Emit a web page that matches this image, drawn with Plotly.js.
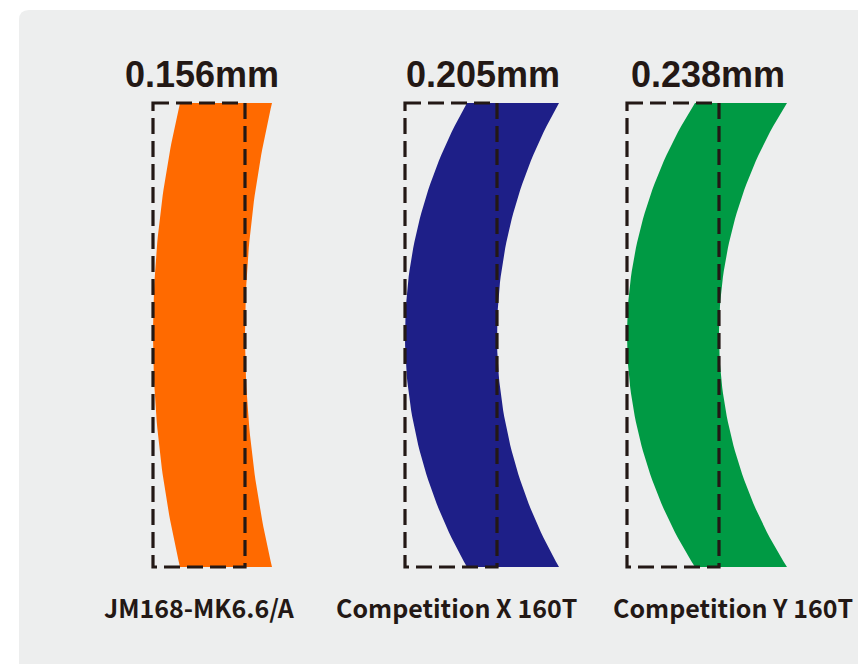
<!DOCTYPE html>
<html>
<head>
<meta charset="utf-8">
<script src="https://cdn.plot.ly/plotly-3.0.1.min.js"></script>
<style>html,body{margin:0;padding:0;background:#fff;}#chart{width:858px;height:664px;}</style>
</head>
<body>
<div id="chart"></div>
<script>
// ---- data ----
const products = ["JM168-MK6.6/A", "Competition X 160T", "Competition Y 160T"];
const thicknessMm = [0.156, 0.205, 0.238];
const curveSag = [27, 62, 68];            // horizontal bow of each sheet
const colors = ["#ff6a00", "#1e1f88", "#009a44"];

// ---- layout constants ----
const W = 858, H = 664;
const rectLeft = [153, 405, 627];
const bandWidth = 92;
const yTop = 103, yBot = 567;
const valueLabelX = [202, 483, 708];
const nameLabelX = [199, 456, 733];
const ink = "#231815";

const traces = [];
const shapes = [];
const annotations = [];

// panel background with rounded top-left corner
shapes.push({
  type: "path", layer: "below", xref: "x", yref: "y",
  path: "M 19 " + (H + 20) + " L 19 20 Q 19 10 29 10 L " + (W + 20) + " 10 L " + (W + 20) + " " + (H + 20) + " Z",
  fillcolor: "#edeeee", line: {width: 0}
});

const yMid = (yTop + yBot) / 2, half = (yBot - yTop) / 2;
products.forEach((p, i) => {
  const s = curveSag[i];
  const R = (half * half + s * s) / (2 * s);
  const leftX = [], rightX = [], ys = [];
  const N = 80;
  for (let k = 0; k <= N; k++) {
    const y = yTop + (yBot - yTop) * k / N;
    const dx = R - Math.sqrt(R * R - (y - yMid) * (y - yMid));
    ys.push(y);
    leftX.push(rectLeft[i] + dx);
    rightX.push(rectLeft[i] + dx + bandWidth);
  }
  const xs = leftX.concat(rightX.slice().reverse());
  const yy = ys.concat(ys.slice().reverse());
  traces.push({
    x: xs, y: yy, type: "scatter", mode: "lines", fill: "toself",
    fillcolor: colors[i], line: {width: 0, color: colors[i]},
    hoverinfo: "skip", showlegend: false
  });
  shapes.push({
    type: "rect", layer: "above", xref: "x", yref: "y",
    x0: rectLeft[i], x1: rectLeft[i] + bandWidth, y0: yTop, y1: yBot,
    line: {color: ink, width: 3.2, dash: "16px,7px"}, fillcolor: "rgba(0,0,0,0)"
  });
  annotations.push({
    x: valueLabelX[i], y: 74, xref: "x", yref: "y", showarrow: false,
    text: thicknessMm[i].toFixed(3) + "mm",
    font: {family: "Liberation Sans, Arial, sans-serif", size: 36, color: ink, weight: "bold"}
  });
  annotations.push({
    x: nameLabelX[i], y: 607, xref: "x", yref: "y", showarrow: false,
    text: "<b>" + p + "</b>",
    font: {family: "Noto Sans CJK SC, Noto Sans, sans-serif", size: 25, color: ink}
  });
});

const layout = {
  width: W, height: H,
  margin: {l: 0, r: 0, t: 0, b: 0},
  paper_bgcolor: "#ffffff", plot_bgcolor: "rgba(0,0,0,0)",
  xaxis: {range: [0, W], visible: false, fixedrange: true},
  yaxis: {range: [H, 0], visible: false, fixedrange: true},
  shapes: shapes, annotations: annotations, showlegend: false
};
Plotly.newPlot("chart", traces, layout, {displayModeBar: false, staticPlot: true});
</script>
</body>
</html>
